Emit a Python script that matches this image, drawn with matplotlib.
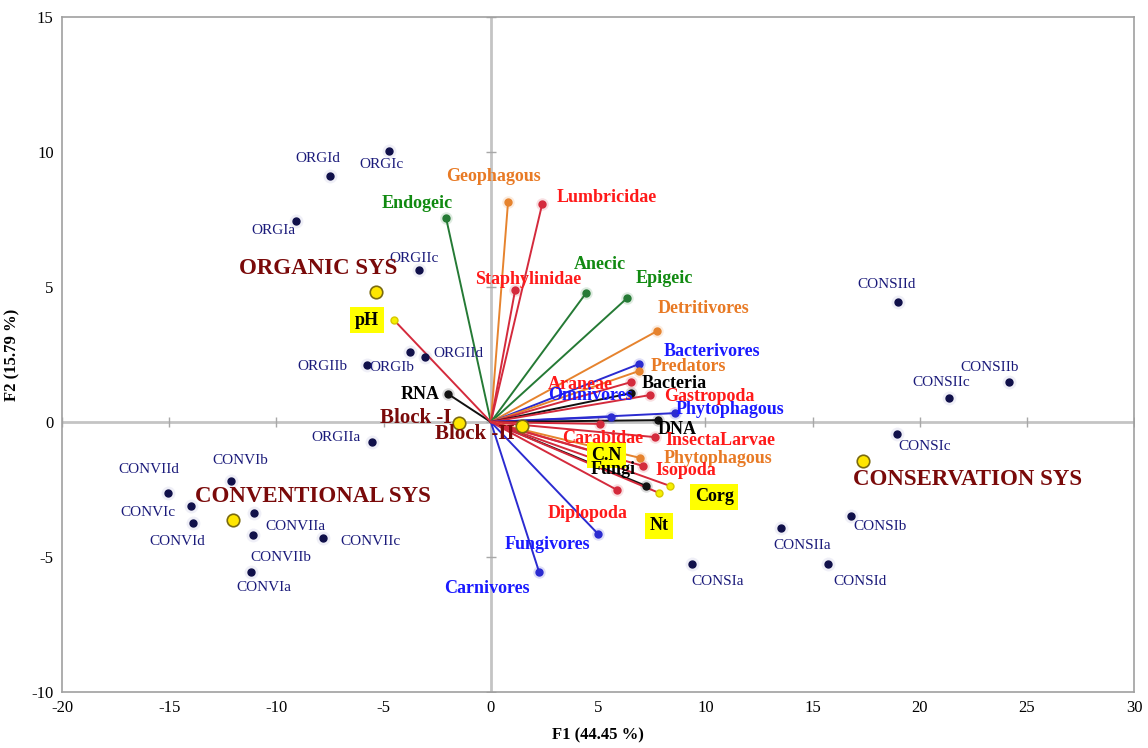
import numpy as np
import matplotlib.pyplot as plt

plt.rcParams['font.family'] = ['Liberation Serif', 'DejaVu Serif']
plt.rcParams['axes.unicode_minus'] = False

# --- active variables (loadings scaled on F1/F2) ---
var_names = ['Endogeic', 'Geophagous', 'Lumbricidae', 'Staphylinidae', 'Anecic',
             'Epigeic', 'Detritivores', 'Bacterivores', 'Predators', 'Araneae',
             'Bacteria', 'Gastropoda', 'Omnivores', 'Phytophagous', 'DNA',
             'Carabidae', 'InsectaLarvae', 'Phytophagous', 'Isopoda', 'Fungi',
             'Diplopoda', 'Fungivores', 'Carnivores', 'RNA']
var_f1 = [-2.09, 0.80, 2.39, 1.13, 4.44, 6.35, 7.75, 6.91, 6.91, 6.54,
          6.54, 7.43, 5.61, 8.59, 7.80, 5.09, 7.66, 6.96, 7.10, 7.24,
          5.89, 5.00, 2.25, -2.00]
var_f2 = [7.56, 8.15, 8.07, 4.89, 4.78, 4.59, 3.37, 2.15, 1.89, 1.48,
          1.07, 1.00, 0.19, 0.33, 0.07, -0.07, -0.56, -1.33, -1.63, -2.37,
          -2.52, -4.15, -5.56, 1.04]
var_group = ['earthworm', 'feeding', 'taxa', 'taxa', 'earthworm',
             'earthworm', 'feeding', 'nematode', 'feeding', 'taxa',
             'microbe', 'taxa', 'nematode', 'nematode', 'microbe',
             'taxa', 'taxa', 'feeding', 'taxa', 'microbe',
             'taxa', 'nematode', 'nematode', 'microbe']

# --- supplementary soil variables ---
sup_names = ['pH', 'C.N', 'Corg', 'Nt']
sup_f1 = [-4.52, 5.30, 8.36, 7.85]
sup_f2 = [3.78, -1.20, -2.37, -2.63]

# --- observations ---
obs_names = ['ORGIc', 'ORGId', 'ORGIa', 'ORGIIc', 'ORGIId', 'ORGIb', 'ORGIIb', 'ORGIIa',
             'CONVIId', 'CONVIb', 'CONVIc', 'CONVId', 'CONVIIa', 'CONVIIb', 'CONVIIc', 'CONVIa',
             'CONSIId', 'CONSIIb', 'CONSIIc', 'CONSIc', 'CONSIb', 'CONSIIa', 'CONSId', 'CONSIa']
obs_f1 = [-4.75, -7.50, -9.09, -3.35, -3.08, -3.77, -5.77, -5.56,
          -15.07, -12.13, -14.00, -13.89, -11.04, -11.08, -7.81, -11.18,
          19.00, 24.16, 21.37, 18.93, 16.79, 13.55, 15.70, 9.37]
obs_f2 = [10.05, 9.11, 7.46, 5.63, 2.40, 2.58, 2.11, -0.73,
          -2.64, -2.17, -3.10, -3.73, -3.36, -4.19, -4.28, -5.57,
          4.46, 1.47, 0.88, -0.44, -3.48, -3.94, -5.26, -5.26]

# --- factor centroids ---
cent_names = ['ORGANIC SYS', 'CONVENTIONAL SYS', 'CONSERVATION SYS', 'Block -I', 'Block -II']
cent_f1 = [-5.35, -12.02, 17.35, -1.48, 1.46]
cent_f2 = [4.81, -3.63, -1.44, -0.04, -0.15]

# styles
line_col = {'taxa': '#d42a3c', 'feeding': '#e6832e', 'nematode': '#2b2bd0',
            'earthworm': '#257a35', 'microbe': '#111111'}
text_col = {'taxa': '#ff1a1a', 'feeding': '#e87a25', 'nematode': '#1a1aff',
            'earthworm': '#118a11', 'microbe': '#000000'}

# label offsets in pixels (dx right, dy up)
var_off = [(-29, 14), (-15, 26), (65, 7), (13, 11), (14, 29),
           (37, 20), (46, 23), (73, 12), (49, 5), (-51, -2),
           (43, 10), (59, -1), (-21, 21), (55, 4), (19, -9),
           (3, -15), (65, -3), (78, -1), (43, -4), (-33, 16),
           (-30, -23), (-51, -10), (-52, -16), (-28, -1)]
sup_off = [(-27, 0), (2, -1), (44, -11), (0, -33)]
obs_off = [(-8, -14), (-12, 18), (-23, -10), (-5, 12), (34, 4), (-18, -15), (-45, -1), (-36, 4),
           (-19, 24), (10, 20), (-43, -7), (-16, -19), (41, -14), (28, -22), (47, -4), (13, -15),
           (-12, 17), (-19, 15), (-8, 16), (28, -13), (29, -11), (21, -17), (32, -18), (26, -18)]
cent_off = [(-58, 24), (80, 23), (105, -19), (-43, 5), (-47, -8)]
cent_size = [16.5, 16.5, 16.5, 15, 15]

fig = plt.figure(figsize=(11.48, 7.48), dpi=100)
ax = fig.add_axes([0.054, 0.075, 0.934, 0.902])
ax.set_xlim(-20, 30)
ax.set_ylim(-10, 15)

ax.axhline(0, color='#c4c4c4', lw=2, zorder=1)
ax.axvline(0, color='#c4c4c4', lw=2, zorder=1)
xt = np.arange(-20, 31, 5)
yt = np.arange(-10, 16, 5)
ax.plot(xt, np.zeros_like(xt), ls='none', marker='|', ms=7, color='#a8a8a8', zorder=1)
ax.plot(np.zeros_like(yt), yt, ls='none', marker='_', ms=7, color='#a8a8a8', zorder=1)

for s in ax.spines.values():
    s.set_color('#a0a0a0')
    s.set_linewidth(1.2)
ax.set_xticks(xt)
ax.set_yticks(yt)
ax.tick_params(length=0, labelsize=12, pad=6)

# vectors
for name, x, y, g, (dx, dy) in zip(var_names, var_f1, var_f2, var_group, var_off):
    ax.plot([0, x], [0, y], color=line_col[g], lw=1.4, zorder=2)
    ax.plot(x, y, 'o', ms=9, color=line_col[g], alpha=0.15, mec='none', zorder=2)
    ax.plot(x, y, 'o', ms=5, color=line_col[g], zorder=3)
    ax.annotate(name, (x, y), xytext=(dx, dy), textcoords='offset pixels',
                ha='center', va='center', fontsize=13, fontweight='bold',
                color=text_col[g], zorder=5)

for name, x, y, (dx, dy) in zip(sup_names, sup_f1, sup_f2, sup_off):
    ax.plot([0, x], [0, y], color='#d42a3c', lw=1.4, zorder=2)
    ax.plot(x, y, 'o', ms=5, color='#f5f000', mec='#d8c800', zorder=3)
    ax.annotate(name, (x, y), xytext=(dx, dy), textcoords='offset pixels',
                ha='center', va='center', fontsize=13, fontweight='bold', color='black',
                bbox=dict(boxstyle='square,pad=0.25', fc='#ffff00', ec='none'), zorder=4)

# observations
ax.plot(obs_f1, obs_f2, 'o', ms=10, color='#3a3a9a', alpha=0.08, mec='none', zorder=2)
ax.plot(obs_f1, obs_f2, 'o', ms=5, color='#10104a', zorder=3)
for name, x, y, (dx, dy) in zip(obs_names, obs_f1, obs_f2, obs_off):
    ax.annotate(name, (x, y), xytext=(dx, dy), textcoords='offset pixels',
                ha='center', va='center', fontsize=11, color='#1a1a7a', zorder=4)

# centroids
ax.plot(cent_f1, cent_f2, 'o', ms=9, color='#ffe600', mec='#7a6a10', mew=1.2, zorder=4)
for name, x, y, (dx, dy), fs in zip(cent_names, cent_f1, cent_f2, cent_off, cent_size):
    ax.annotate(name, (x, y), xytext=(dx, dy), textcoords='offset pixels',
                ha='center', va='center', fontsize=fs, fontweight='bold',
                color='#7a0a0a', zorder=5)

ax.set_xlabel('F1 (44.45 %)', fontsize=12, fontweight='bold', labelpad=8)
ax.set_ylabel('F2 (15.79 %)', fontsize=12, fontweight='bold', labelpad=8)

fig.savefig('out.png', dpi=100)
